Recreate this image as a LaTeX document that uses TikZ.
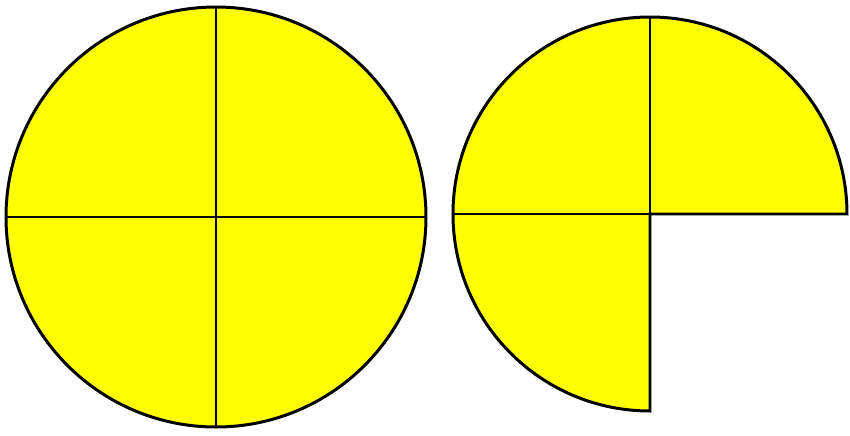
\documentclass[tikz,border=0pt]{standalone}
\usepackage{xcolor}
\usepackage{tikz}
\definecolor{discyellow}{RGB}{255,255,0}

\begin{document}
\begin{tikzpicture}[
    x=0.01cm, y=-0.01cm,
    disc/.style={fill=discyellow, draw=black, line width=0.85pt},
    cross/.style={draw=black, line width=0.85pt},
]
\useasboundingbox (0,0) rectangle (850,436);

% full circle, cut in four
\coordinate (lc) at (216,217);
\draw[disc] (lc) circle[radius=210];
\draw[cross] (6,217) -- (426,217);
\draw[cross] (216,7) -- (216,427);

% three quarters, lower right one taken out
\coordinate (rc) at (650,214);
\draw[disc] (rc) -- (847,214) arc[start angle=0, end angle=-270, radius=197] -- cycle;
\draw[cross] (453,214) -- (rc);
\draw[cross] (650,17) -- (rc);
\end{tikzpicture}
\end{document}
